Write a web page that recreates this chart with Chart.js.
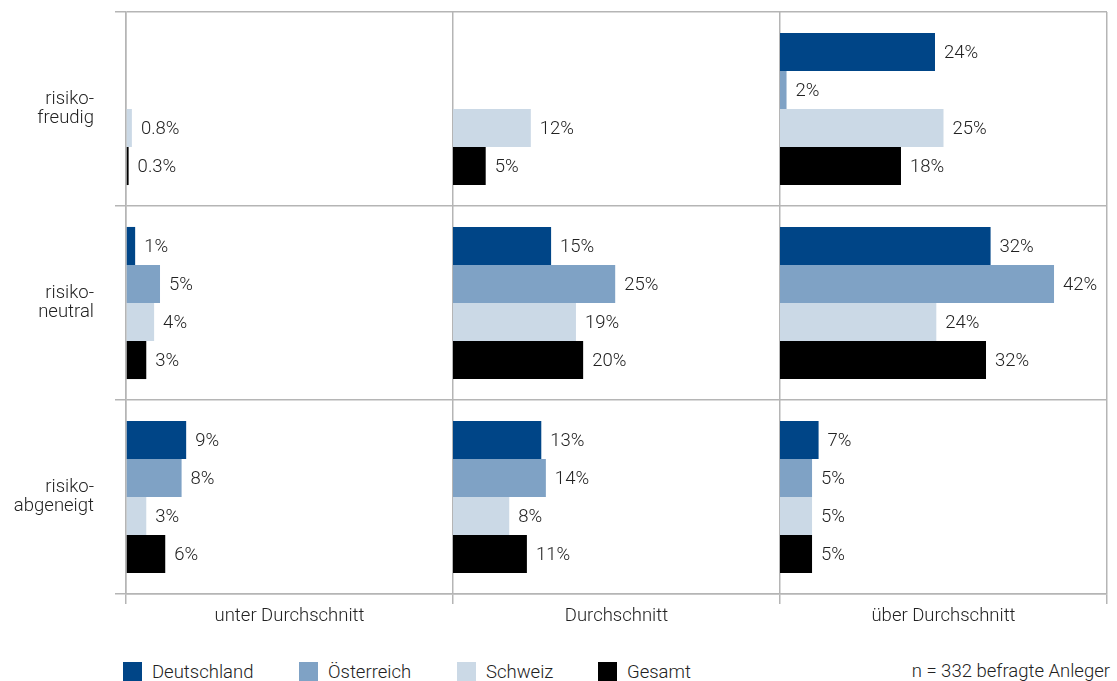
<!DOCTYPE html>
<html>
<head>
<meta charset="utf-8">
<script src="https://cdn.jsdelivr.net/npm/chart.js@4/dist/chart.umd.min.js"></script>
<style>
  html, body { margin: 0; padding: 0; background: #fff; }
  body { width: 1117px; height: 681px; position: relative; overflow: hidden;
         font-family: Roboto, "Liberation Sans", sans-serif; font-weight: 300; color: #222; }
  #wrap { position: absolute; left: 0; top: 0; width: 1117px; height: 640px; }
  .leg { position: absolute; top: 662px; height: 19px; display: flex; align-items: center; font-size: 18.5px; white-space: nowrap; }
  .sw { width: 19px; height: 19px; margin-right: 10px; flex: none; }
  #note { position: absolute; top: 662px; right: 7px; height: 19px; line-height: 19px; font-size: 18.5px; white-space: nowrap; }
</style>
</head>
<body>
<div id="wrap"><canvas id="c"></canvas></div>
<div id="legend"></div>
<div id="note">n = 332 befragte Anleger</div>
<script>
// ---- data ----
const rowLabels = [['risiko-', 'freudig'], ['risiko-', 'neutral'], ['risiko-', 'abgeneigt']];
const columnLabels = ['unter Durchschnitt', 'Durchschnitt', 'über Durchschnitt'];
const seriesNames = ['Deutschland', 'Österreich', 'Schweiz', 'Gesamt'];
const columnSpan = 50; // each column covers 0–50 %

// bar values per series, [row][column] (percent)
const deutschland = [[null, null, 23.7], [1.4, 15.0, 32.2], [9.2, 13.5, 5.9]];
const oesterreich = [[null, null, 1.0], [5.2, 24.8, 41.9], [8.5, 14.2, 4.9]];
const schweiz     = [[0.9, 11.9, 25.0], [4.3, 18.8, 23.9], [3.1, 8.6, 4.9]];
const gesamt      = [[0.4, 5.0, 18.5], [3.1, 19.9, 31.5], [6.0, 11.3, 4.9]];

// printed value labels, [row][column]
const deutschlandText = [[null, null, '24%'], ['1%', '15%', '32%'], ['9%', '13%', '7%']];
const oesterreichText = [[null, null, '2%'], ['5%', '25%', '42%'], ['8%', '14%', '5%']];
const schweizText     = [['0.8%', '12%', '25%'], ['4%', '19%', '24%'], ['3%', '8%', '5%']];
const gesamtText      = [['0.3%', '5%', '18%'], ['3%', '20%', '32%'], ['6%', '11%', '5%']];

const seriesColors = ['#004587', '#7fa2c5', '#cbd9e6', '#000000'];
const legendLeft = [123, 299, 457, 598];

// ---- build ----
const seriesValues = [deutschland, oesterreich, schweiz, gesamt];
const seriesText = [deutschlandText, oesterreichText, schweizText, gesamtText];
const FONT = 'Roboto, "Liberation Sans", sans-serif';
const TEXT = '#222222';
const GRID = '#b5b5b5';

const datasets = [];
columnLabels.forEach((col, c) => {
  seriesNames.forEach((name, s) => {
    datasets.push({
      label: name,
      stack: name,
      data: rowLabels.map((r, ri) => {
        const v = seriesValues[s][ri][c];
        return v == null ? null : [c * columnSpan, c * columnSpan + v];
      }),
      valueText: rowLabels.map((r, ri) => seriesText[s][ri][c]),
      backgroundColor: seriesColors[s],
      borderWidth: 0,
      categoryPercentage: 0.784,
      barPercentage: 1.0
    });
  });
});

const valueLabels = {
  id: 'valueLabels',
  afterDatasetsDraw(chart) {
    const ctx = chart.ctx;
    ctx.save();
    ctx.font = '300 18.5px ' + FONT;
    ctx.fillStyle = TEXT;
    ctx.textBaseline = 'middle';
    ctx.textAlign = 'left';
    chart.data.datasets.forEach((ds, i) => {
      const meta = chart.getDatasetMeta(i);
      meta.data.forEach((el, j) => {
        const t = ds.valueText[j];
        if (!t || ds.data[j] == null) return;
        ctx.fillText(t, el.x + 9, el.y + 1);
      });
    });
    ctx.restore();
  }
};

const tickValues = [];
for (let v = 0; v <= columnSpan * columnLabels.length; v += columnSpan / 2) tickValues.push(v);

new Chart(document.getElementById('c'), {
  type: 'bar',
  data: { labels: rowLabels, datasets },
  options: {
    indexAxis: 'y',
    responsive: true,
    maintainAspectRatio: false,
    animation: false,
    layout: { padding: { top: 12, right: 10, left: 0, bottom: 0 } },
    plugins: { legend: { display: false }, tooltip: { enabled: false } },
    scales: {
      x: {
        type: 'linear',
        min: 0,
        max: columnSpan * columnLabels.length,
        stacked: false,
        afterBuildTicks(s) { s.ticks = tickValues.map(v => ({ value: v })); },
        afterFit(s) { s.height = 46; s.paddingLeft = 0; s.paddingRight = 0; },
        ticks: {
          autoSkip: false, maxRotation: 0, padding: 1,
          font: { family: FONT, size: 18.5, weight: '300' }, color: TEXT,
          callback: (v) => (v % columnSpan === columnSpan / 2) ? columnLabels[Math.floor(v / columnSpan)] : ''
        },
        grid: {
          color: (c) => (c.tick && c.tick.value % columnSpan === 0) ? GRID : 'rgba(0,0,0,0)',
          lineWidth: 1.5,
          tickLength: 10
        },
        border: { color: GRID, width: 1.5 }
      },
      y: {
        type: 'category',
        offset: true,
        afterFit(s) { s.width = 126; s.paddingTop = 0; s.paddingBottom = 0; },
        ticks: {
          padding: 21,
          font: { family: FONT, size: 18.5, weight: '300', lineHeight: 1.05 }, color: TEXT
        },
        grid: { offset: true, color: GRID, lineWidth: 1.5, tickLength: 11 },
        border: { color: GRID, width: 1.5 }
      }
    }
  },
  plugins: [valueLabels]
});

// HTML legend
const legendEl = document.getElementById('legend');
seriesNames.forEach((name, s) => {
  const d = document.createElement('div');
  d.className = 'leg';
  d.style.left = legendLeft[s] + 'px';
  d.innerHTML = '<span class="sw" style="background:' + seriesColors[s] + '"></span><span>' + name + '</span>';
  legendEl.appendChild(d);
});
</script>
</body>
</html>
